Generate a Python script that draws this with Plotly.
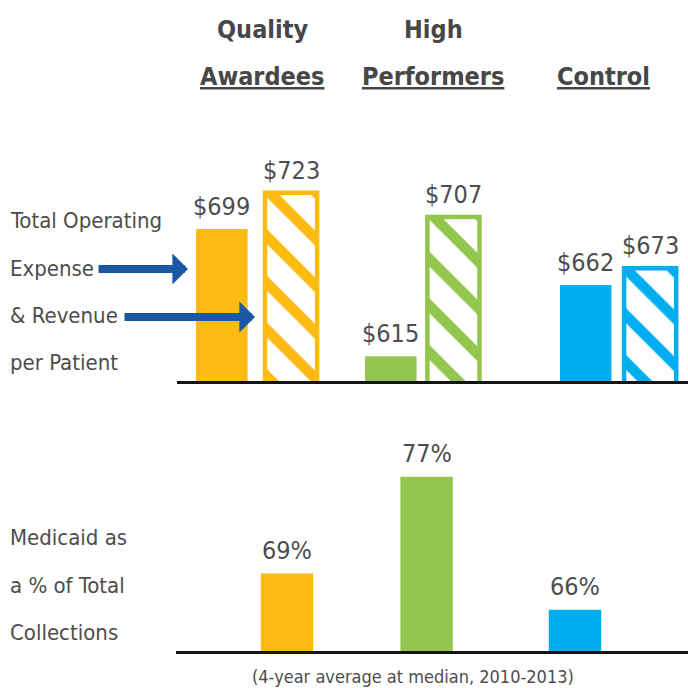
import plotly.graph_objects as go

# ---------------- data ----------------
groups = ["Quality Awardees", "High Performers", "Control"]
header_top = ["Quality", "High", ""]
header_bottom = ["Awardees", "Performers", "Control"]
expense = [699, 615, 662]
revenue = [723, 707, 673]
medicaid = [69, 77, 66]
expense_labels = ["$699", "$615", "$662"]
revenue_labels = ["$723", "$707", "$673"]
medicaid_labels = ["69%", "77%", "66%"]
left_top_lines = ["Total Operating", "Expense", "& Revenue", "per Patient"]
left_bottom_lines = ["Medicaid as", "a % of Total", "Collections"]
footnote = "(4-year average at median, 2010-2013)"

# ---------------- style ----------------
colors = ["#FCBA12", "#92C64F", "#00AEEF"]
arrow_color = "#1B57A3"
text_color = "#4D4D4D"
head_color = "#474747"
FONT = "DejaVu Sans Condensed, Liberation Sans Narrow, sans-serif"

W = H = 688
def px(x):
    return x / W
def py(y):
    return 1 - y / H

# bar offsets / widths in category units (1 unit = spacing between groups)
exp_off = [-0.370, -0.352, -0.178]
rev_off = [0.045, 0.023, 0.208]
med_off = [0.025, -0.136, -0.244]
exp_w = [0.31] * 3
rev_w = [0.314] * 3
med_w = [0.315] * 3

fig = go.Figure()

fig.add_trace(go.Bar(
    x=groups, y=expense, offset=exp_off, width=exp_w,
    marker=dict(color=colors, line=dict(width=0)),
    xaxis="x", yaxis="y", hoverinfo="skip"))

fig.add_trace(go.Bar(
    x=groups, y=revenue, offset=rev_off, width=rev_w,
    marker=dict(color="white", line=dict(color=colors, width=4.5),
                pattern=dict(shape="\\", fgcolor=colors, bgcolor="white",
                             size=33, solidity=0.32, fillmode="replace")),
    xaxis="x", yaxis="y", hoverinfo="skip"))

fig.add_trace(go.Bar(
    x=groups, y=medicaid, offset=med_off, width=med_w,
    marker=dict(color=colors, line=dict(width=0)),
    xaxis="x2", yaxis="y2", hoverinfo="skip"))

annotations = []

VAL_SIZE = 25
# value labels
for i in range(3):
    annotations.append(dict(
        x=i + exp_off[i] + exp_w[i] / 2, y=expense[i], xref="x", yref="y",
        text=expense_labels[i], showarrow=False, yanchor="bottom", yshift=6,
        font=dict(family=FONT, size=VAL_SIZE, color=text_color)))
    annotations.append(dict(
        x=i + rev_off[i] + rev_w[i] / 2, y=revenue[i], xref="x", yref="y",
        text=revenue_labels[i], showarrow=False, yanchor="bottom", yshift=6,
        font=dict(family=FONT, size=VAL_SIZE, color=text_color)))
    annotations.append(dict(
        x=i + med_off[i] + med_w[i] / 2, y=medicaid[i], xref="x2", yref="y2",
        text=medicaid_labels[i], showarrow=False, yanchor="bottom", yshift=7,
        font=dict(family=FONT, size=VAL_SIZE, color=text_color)))

# headers
head_x = [262, 433, 603]
for i in range(3):
    if header_top[i]:
        annotations.append(dict(
            x=px(head_x[i]), y=py(30), xref="paper", yref="paper",
            text="<b>%s</b>" % header_top[i], showarrow=False,
            xanchor="center", yanchor="middle",
            font=dict(family=FONT, size=25, color=head_color)))
    annotations.append(dict(
        x=px(head_x[i]), y=py(77), xref="paper", yref="paper",
        text="<b><u>%s</u></b>" % header_bottom[i], showarrow=False,
        xanchor="center", yanchor="middle",
        font=dict(family=FONT, size=25, color=head_color)))

# left labels
for txt, yy in zip(left_top_lines, [220, 268, 316, 362]):
    annotations.append(dict(
        x=px(8), y=py(yy), xref="paper", yref="paper", text=txt,
        showarrow=False, xanchor="left", yanchor="middle",
        font=dict(family=FONT, size=22, color=text_color)))
for txt, yy in zip(left_bottom_lines, [537, 585, 632]):
    annotations.append(dict(
        x=px(8), y=py(yy), xref="paper", yref="paper", text=txt,
        showarrow=False, xanchor="left", yanchor="middle",
        font=dict(family=FONT, size=22, color=text_color)))

# arrows
for tip_x, tail_x, yy in [(188, 97, 269), (255, 123, 317)]:
    annotations.append(dict(
        x=px(tip_x), y=py(yy), xref="paper", yref="paper",
        ax=tail_x - tip_x, ay=0, text="", showarrow=True,
        arrowhead=1, arrowsize=0.65, arrowwidth=8, arrowcolor=arrow_color))

# footnote
annotations.append(dict(
    x=px(413), y=py(676), xref="paper", yref="paper", text=footnote,
    showarrow=False, xanchor="center", yanchor="middle",
    font=dict(family=FONT, size=18, color=text_color)))

axis_common = dict(type="category", range=[-0.485, 2.593], showline=True,
                   linecolor="#141414", linewidth=3, showticklabels=False,
                   ticks="", showgrid=False, zeroline=False, fixedrange=True)

fig.update_layout(
    width=W, height=H,
    margin=dict(l=0, r=0, t=0, b=0),
    paper_bgcolor="white", plot_bgcolor="white",
    showlegend=False, barmode="overlay",
    xaxis=dict(domain=[px(177), 1], anchor="y", **axis_common),
    xaxis2=dict(domain=[px(176), 1], anchor="y2", **axis_common),
    yaxis=dict(domain=[py(381), py(100)], range=[598.6, 784.2], visible=False),
    yaxis2=dict(domain=[py(651), py(440)], range=[62.6, 80.03], visible=False),
    annotations=annotations,
)

fig.write_html("out.html", config={"displayModeBar": False},
               post_script="document.body.style.margin='0';document.body.style.overflow='hidden';")
